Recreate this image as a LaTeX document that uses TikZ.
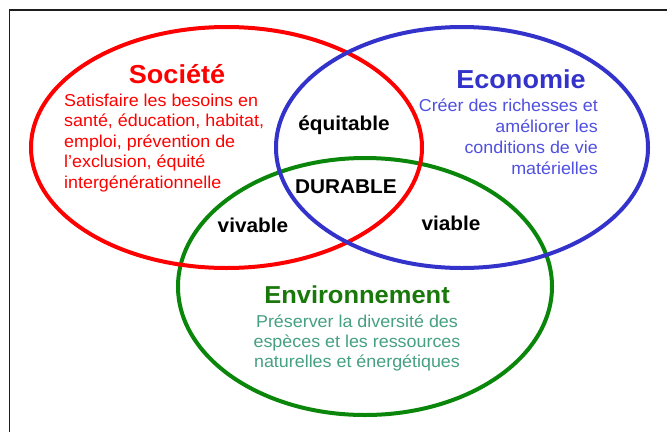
\documentclass[tikz,border=0pt]{standalone}
\usepackage{fontspec}
\setmainfont{Liberation Sans}[FakeStretch=1.04]
\definecolor{cred}{RGB}{255,0,0}
\definecolor{cblue}{RGB}{51,51,204}
\definecolor{cbluetxt}{RGB}{80,80,225}
\definecolor{cgreen}{RGB}{10,135,10}
\definecolor{cgreentitle}{RGB}{25,120,10}
\definecolor{cgreentxt}{RGB}{70,160,130}
\definecolor{cframe}{RGB}{30,30,30}
\tikzset{
  ring/.style={line width=4pt},
  title/.style={font=\bfseries\fontsize{26}{30}\selectfont, inner sep=0pt},
  body/.style={font=\fontsize{17.2}{20.5}\selectfont, inner sep=0pt},
  zone/.style={font=\bfseries\fontsize{20}{24}\selectfont, text=black, inner sep=0pt}
}
\begin{document}
\begin{tikzpicture}[x=1pt,y=-1pt]
\useasboundingbox (0,0) rectangle (667,432);
\fill[white] (0,0) rectangle (667,432);
\draw[cframe, line width=1.5pt] (9.5,432) -- (9.5,10) -- (667,10);
% circles
\draw[ring, cgreen] (365,286.5) ellipse [x radius=187, y radius=128.5];
\draw[ring, cred] (226.5,147.5) ellipse [x radius=195.5, y radius=120.5];
\draw[ring, cblue] (462,147.5) ellipse [x radius=186, y radius=120.5];
% Société (anchor base = baseline of last line)
\node[title, text=cred, anchor=base] (soc) at (177,83) {Société};
\node[body, text=cred, anchor=base west, align=left] (socb) at (64,188)
  {Satisfaire les besoins en\\santé, éducation, habitat,\\emploi, prévention de\\l’exclusion, équité\\intergénérationnelle};
% Economie
\node[title, text=cblue, anchor=base] (eco) at (521,88) {Economie};
\node[body, text=cbluetxt, anchor=base east, align=right, font=\fontsize{17.2}{20.7}\selectfont] (ecob) at (598,174)
  {Créer des richesses et\\améliorer les\\conditions de vie\\matérielles};
% Environnement
\node[title, text=cgreentitle, font=\bfseries\fontsize{24.5}{29}\selectfont, anchor=base] (env) at (357,303) {Environnement};
\node[body, text=cgreentxt, anchor=base, align=center, font=\fontsize{17.2}{20}\selectfont] (envb) at (357,367)
  {Préserver la diversité des\\espèces et les ressources\\naturelles et énergétiques};
% zones
\node[zone, anchor=base] (equ) at (344,130) {équitable};
\node[zone, anchor=base] (dur) at (346,193) {DURABLE};
\node[zone, anchor=base] (viv) at (253,232) {vivable};
\node[zone, anchor=base] (via) at (451,230) {viable};
\end{tikzpicture}
\end{document}
